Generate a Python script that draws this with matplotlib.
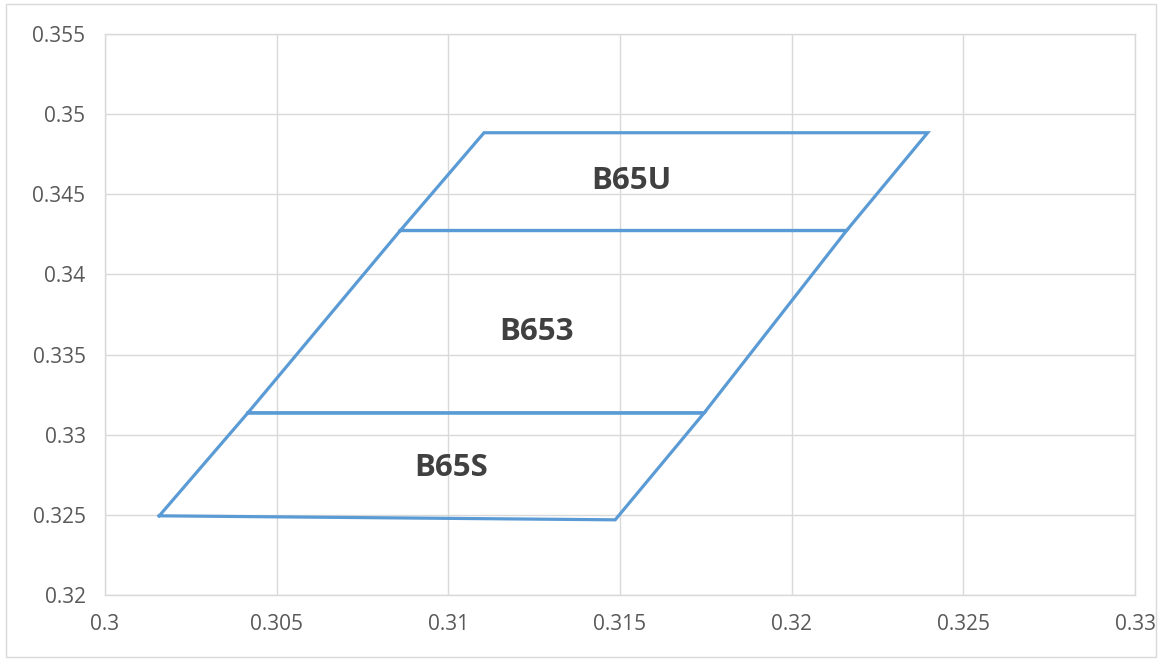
import matplotlib
matplotlib.use("Agg")
import matplotlib.pyplot as plt
from matplotlib.patches import Rectangle

# Bin names and corner chromaticity coordinates (x, y)
bins = ["B65S", "B653", "B65U"]
bin_x = [
    [0.30158, 0.31486, 0.31745, 0.30416, 0.30158],
    [0.30416, 0.31745, 0.32160, 0.30860, 0.30416],
    [0.30860, 0.32160, 0.32396, 0.31104, 0.30860],
]
bin_y = [
    [0.32494, 0.32469, 0.33136, 0.33136, 0.32494],
    [0.33136, 0.33136, 0.34274, 0.34274, 0.33136],
    [0.34274, 0.34274, 0.34884, 0.34884, 0.34274],
]
label_x = [0.31008, 0.31258, 0.31533]
label_y = [0.32790, 0.33640, 0.34580]

x_ticks = [0.3, 0.305, 0.31, 0.315, 0.32, 0.325, 0.33]
x_tick_labels = ["0.3", "0.305", "0.31", "0.315", "0.32", "0.325", "0.33"]
y_ticks = [0.32, 0.325, 0.33, 0.335, 0.34, 0.345, 0.35, 0.355]
y_tick_labels = ["0.32", "0.325", "0.33", "0.335", "0.34", "0.345", "0.35", "0.355"]

fig = plt.figure(figsize=(11.6, 6.59), dpi=100)
ax = fig.add_axes([105 / 1160, 1 - 595 / 659, 1030 / 1160, 561 / 659])

line_color = "#5B9BD5"
for xs, ys in zip(bin_x, bin_y):
    ax.plot(xs, ys, color=line_color, linewidth=2.3, solid_joinstyle="miter", zorder=3)

for name, lx, ly in zip(bins, label_x, label_y):
    ax.text(lx, ly, name, ha="center", va="center", fontsize=22.5, fontweight="bold",
            color="#404040", family="Open Sans", zorder=4)

ax.set_xlim(0.3, 0.33)
ax.set_ylim(0.32, 0.355)
ax.set_xticks(x_ticks)
ax.set_xticklabels(x_tick_labels)
ax.set_yticks(y_ticks)
ax.set_yticklabels(y_tick_labels)
ax.tick_params(length=0, labelsize=15, labelcolor="#595959", pad=14)
for lab in ax.get_xticklabels() + ax.get_yticklabels():
    lab.set_family("Open Sans")
ax.grid(True, color="#D9D9D9", linewidth=1.0, zorder=0)
ax.set_axisbelow(True)
for sp in ax.spines.values():
    sp.set_color("#D9D9D9")
    sp.set_linewidth(1.0)

fig.patches.append(Rectangle((6 / 1160, 2 / 659), 1150 / 1160, 653 / 659,
                             transform=fig.transFigure, fill=False,
                             edgecolor="#D9D9D9", linewidth=1.0))

fig.savefig("out.png", dpi=100)
